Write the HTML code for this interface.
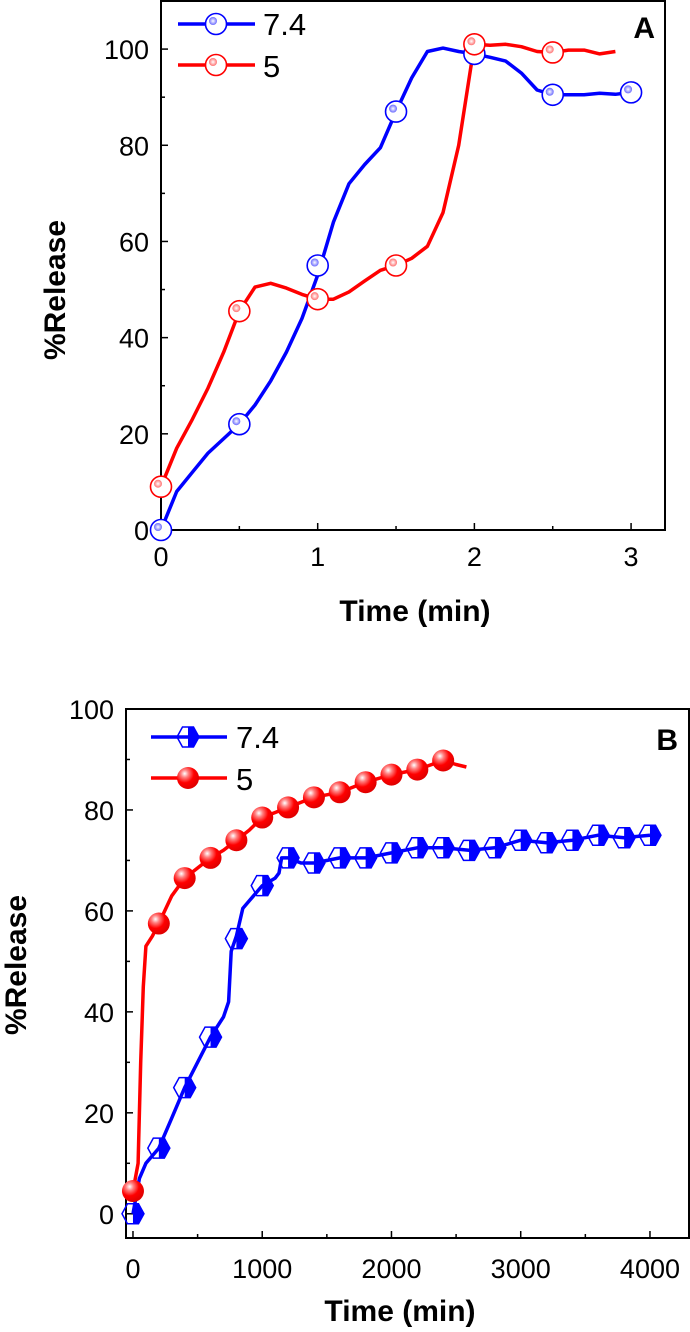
<!DOCTYPE html>
<html><head><meta charset="utf-8">
<style>
html,body{margin:0;padding:0;background:#fff;}
svg{display:block;}
text{font-family:"Liberation Sans",Arial,sans-serif;}
</style></head>
<body>
<svg id="fig" width="690" height="1332" viewBox="0 0 690 1332" xmlns="http://www.w3.org/2000/svg">
<defs>
<radialGradient id="gBlueHi" cx="0.5" cy="0.5" r="0.5"><stop offset="0" stop-color="#fff"/><stop offset="1" stop-color="#6a6aff"/></radialGradient>
<radialGradient id="gRedHi" cx="0.5" cy="0.5" r="0.5"><stop offset="0" stop-color="#fff"/><stop offset="1" stop-color="#ff7070"/></radialGradient>
<radialGradient id="gRedBall" cx="0.35" cy="0.3" r="0.7"><stop offset="0" stop-color="#fff"/><stop offset="0.25" stop-color="#ff8080"/><stop offset="0.6" stop-color="#ff0000"/><stop offset="1" stop-color="#e00000"/></radialGradient>
</defs>
<g id="panelA"></g>
<g id="panelB"></g>
</svg>
<script>
// ---- Panel A data ----
const aTime = [0,0.1,0.2,0.3,0.4,0.5,0.6,0.7,0.8,0.9,1,1.1,1.2,1.3,1.4,1.5,1.6,1.7,1.8,1.9,2,2.1,2.2,2.3,2.4,2.5,2.6,2.7,2.8,2.9,3];
const aBlue = [0,8,12,16,19,22,26,31,37,44,53,64,72,76,79.5,87,94,99.5,100.2,99.5,99,98.3,97.5,95,91.5,90.5,90.5,90.5,90.8,90.6,91];
const aRedTime = [0,0.1,0.2,0.3,0.4,0.5,0.6,0.7,0.8,0.9,1,1.1,1.2,1.3,1.4,1.5,1.6,1.7,1.8,1.9,2,2.1,2.2,2.3,2.4,2.5,2.6,2.7,2.8,2.9];
const aRed = [9,17,23,29.5,37,45.5,50.5,51.3,50.3,49,48,48,49.5,51.8,54,55,56.5,59,66,80,101,100.8,101,100.5,99.5,99.3,99.8,99.8,99,99.5];
const aBlueMarkT = [0,0.5,1,1.5,2,2.5,3];
const aBlueMarkV = [0,22,55,87,99,90.5,91];
const aRedMarkT = [0,0.5,1,1.5,2,2.5];
const aRedMarkV = [9,45.5,48,55,101,99.3];
const aXTicks = [0,1,2,3];
const aYTicks = [0,20,40,60,80,100];
// ---- Panel B data ----
const bRedTime = [0,40,60,80,100,150,200,300,400,500,600,700,800,900,1000,1100,1200,1400,1600,1800,2000,2200,2400,2500,2580];
const bRed = [4.5,10,30,45,53,55,57.5,63,66.5,68.5,70.5,72,74,76,78.5,79.5,80.5,82.5,83.5,85.5,87,88,89.8,89,88.5];
const bBlueTime = [0,50,100,200,300,400,500,600,700,740,760,800,850,900,1000,1100,1130,1150,1200,1300,1400,1600,1800,2000,2200,2400,2600,2800,3000,3200,3400,3600,3800,4000];
const bBlue = [0,7,10,13,19,25,30,35,39,42,52,55,60.5,62,65,66.5,67.5,70.5,70.5,69.5,69.5,70.5,70.5,71.5,72.5,72.5,72,72.5,74,73.5,74,75,74.5,75];
const bRedMarkT = [0,200,400,600,800,1000,1200,1400,1600,1800,2000,2200,2400];
const bRedMarkV = [4.5,57.5,66.5,70.5,74,78.5,80.5,82.5,83.5,85.5,87,88,89.8];
const bBlueMarkT = [0,200,400,600,800,1000,1200,1400,1600,1800,2000,2200,2400,2600,2800,3000,3200,3400,3600,3800,4000];
const bBlueMarkV = [0,13,25,35,54.5,65,70.5,69.5,70.5,70.5,71.5,72.5,72.5,72,72.5,74,73.5,74,75,74.5,75];
const bXTicks = [0,1000,2000,3000,4000];
const bYTicks = [0,20,40,60,80,100];

const NS='http://www.w3.org/2000/svg';
function mk(tag, attrs, parent){const e=document.createElementNS(NS,tag);for(const k in attrs)e.setAttribute(k,attrs[k]);parent.appendChild(e);return e;}

const A={L:161,R:665,T:1,B:530,x0:0,x1:3.2165,y0:0,y1:110,xlab:36};
const B={L:126,R:689,T:709,B:1238,x0:-54,x1:4302,y0:-4.8,y1:100,xlab:40};
function sx(P,v){return P.L+(v-P.x0)/(P.x1-P.x0)*(P.R-P.L);}
function sy(P,v){return P.B-(v-P.y0)/(P.y1-P.y0)*(P.B-P.T);}

function frame(P,g,xt,yt,minorX,minorY){
  const r=mk('rect',{x:P.L,y:P.T,width:P.R-P.L,height:P.B-P.T,fill:'none',stroke:'#000','stroke-width':2},g);
  
  
  xt.forEach(v=>{const x=sx(P,v);
    const l=mk('line',{x1:x,x2:x,y1:P.B,y2:P.B-7,stroke:'#000','stroke-width':1.5},g);
    
    
    const t=mk('text',{x:x,y:P.B+P.xlab,'text-anchor':'middle','font-size':27},g);t.textContent=v;
    
    });
  minorX.forEach(v=>{const x=sx(P,v);
    const l=mk('line',{x1:x,x2:x,y1:P.B,y2:P.B-4,stroke:'#000','stroke-width':1.5},g);
    
    });
  yt.forEach(v=>{const y=sy(P,v);
    const l=mk('line',{x1:P.L,x2:P.L+7,y1:y,y2:y,stroke:'#000','stroke-width':1.5},g);
    
    
    const t=mk('text',{x:P.L-12,y:y+10,'text-anchor':'end','font-size':27},g);t.textContent=v;
    
    });
  minorY.forEach(v=>{const y=sy(P,v);
    const l=mk('line',{x1:P.L,x2:P.L+4,y1:y,y2:y,stroke:'#000','stroke-width':1.5},g);
    
    });
}
function line(P,g,xs,ys,color,name){
  const d=xs.map((x,i)=>(i?'L':'M')+sx(P,x).toFixed(1)+','+sy(P,ys[i]).toFixed(1)).join(' ');
  const p=mk('path',{d:d,fill:'none',stroke:color,'stroke-width':3.5,'stroke-linejoin':'round'},g);
  
  
}
function ringMarker(g,x,y,color,hi){
  const c=mk('g',{},g);
  mk('circle',{cx:x,cy:y,r:10.5,fill:'#fff',stroke:color,'stroke-width':1.6},c);
  mk('circle',{cx:x-3,cy:y-3,r:4,fill:hi},c);
  return c;
}
function ballMarker(g,x,y){
  const c=mk('g',{},g);
  mk('circle',{cx:x,cy:y,r:11,fill:'url(#gRedBall)'},c);
  return c;
}
function hexMarker(g,x,y){
  const c=mk('g',{},g);
  const w=11,h=10;
  mk('polygon',{points:`${x},${y-h} ${x+w/2},${y-h} ${x+w},${y} ${x+w/2},${y+h} ${x},${y+h}`,fill:'#0000ff'},c);
  mk('polygon',{points:`${x-w},${y} ${x-w/2},${y-h} ${x+w/2},${y-h} ${x+w},${y} ${x+w/2},${y+h} ${x-w/2},${y+h}`,fill:'none',stroke:'#0000ff','stroke-width':1.5},c);
  return c;
}

// ---- draw A ----
const gA=document.getElementById('panelA');
frame(A,gA,aXTicks,aYTicks,[0.5,1.5,2.5],[10,30,50,70,90]);
line(A,gA,aTime,aBlue,'#0000ff','series-ph7-4-line');
line(A,gA,aRedTime,aRed,'#ff0000','series-ph5-line');
aBlueMarkT.forEach((t,i)=>{const m=ringMarker(gA,sx(A,t),sy(A,aBlueMarkV[i]),'#0000ff','url(#gBlueHi)');
  
  });
aRedMarkT.forEach((t,i)=>{const m=ringMarker(gA,sx(A,t),sy(A,aRedMarkV[i]),'#ff0000','url(#gRedHi)');
  
  });
(function(){
  const lg=mk('g',{},gA);
  
  
  mk('line',{x1:178,x2:255,y1:24,y2:24,stroke:'#0000ff','stroke-width':3.5},lg);
  ringMarker(lg,216,24,'#0000ff','url(#gBlueHi)');
  const t1=mk('text',{x:263,y:35,'font-size':31},lg);t1.textContent='7.4';
  
  
  mk('line',{x1:178,x2:255,y1:65,y2:65,stroke:'#ff0000','stroke-width':3.5},lg);
  ringMarker(lg,216,65,'#ff0000','url(#gRedHi)');
  const t2=mk('text',{x:263,y:77,'font-size':31},lg);t2.textContent='5';
  
  
  const p=mk('text',{x:655,y:38,'font-size':30,'font-weight':'bold','text-anchor':'end'},gA);p.textContent='A';
  
  
})();
(function(){
  const t=mk('text',{x:415,y:621,'font-size':30,'font-weight':'bold','text-anchor':'middle'},gA);t.textContent='Time (min)';
  
  
  const y=mk('text',{x:0,y:0,'font-size':30,'font-weight':'bold','text-anchor':'middle',transform:'translate(65,290) rotate(-90)'},gA);y.textContent='%Release';
  
  
})();

// ---- draw B ----
const gB=document.getElementById('panelB');
frame(B,gB,bXTicks,bYTicks,[500,1500,2500,3500],[10,30,50,70,90]);
line(B,gB,bBlueTime,bBlue,'#0000ff','series-ph7-4-line');
line(B,gB,bRedTime,bRed,'#ff0000','series-ph5-line');
bBlueMarkT.forEach((t,i)=>{const m=hexMarker(gB,sx(B,t),sy(B,bBlueMarkV[i]));
  
  });
bRedMarkT.forEach((t,i)=>{const m=ballMarker(gB,sx(B,t),sy(B,bRedMarkV[i]));
  
  });
(function(){
  const lg=mk('g',{},gB);
  
  
  mk('line',{x1:151,x2:227,y1:737,y2:737,stroke:'#0000ff','stroke-width':3.5},lg);
  hexMarker(lg,188,737);
  const t1=mk('text',{x:236,y:748,'font-size':31},lg);t1.textContent='7.4';
  
  
  mk('line',{x1:151,x2:227,y1:778,y2:778,stroke:'#ff0000','stroke-width':3.5},lg);
  ballMarker(lg,188,778);
  const t2=mk('text',{x:236,y:790,'font-size':31},lg);t2.textContent='5';
  
  
  const p=mk('text',{x:678,y:750,'font-size':30,'font-weight':'bold','text-anchor':'end'},gB);p.textContent='B';
  
  
})();
(function(){
  const t=mk('text',{x:400,y:1321,'font-size':30,'font-weight':'bold','text-anchor':'middle'},gB);t.textContent='Time (min)';
  
  
  const y=mk('text',{x:0,y:0,'font-size':30,'font-weight':'bold','text-anchor':'middle',transform:'translate(26,965) rotate(-90)'},gB);y.textContent='%Release';
  
  
})();
</script>
</body></html>
